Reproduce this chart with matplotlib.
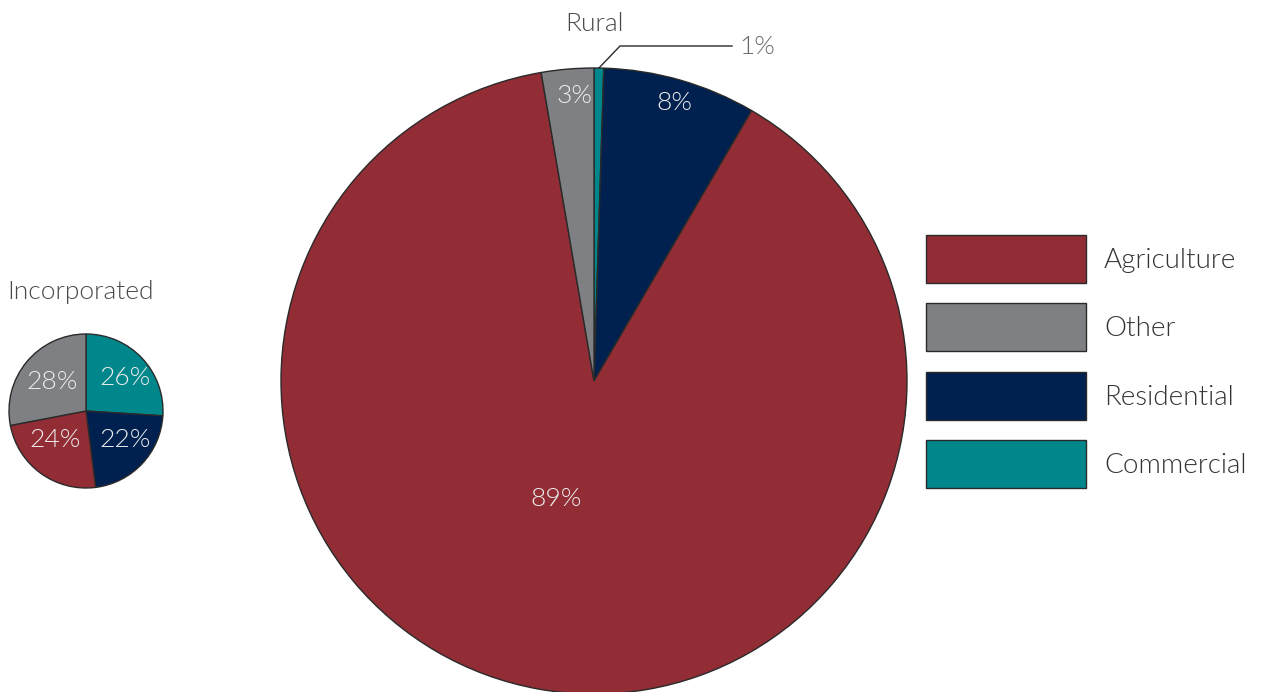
import numpy as np
import matplotlib
matplotlib.use("Agg")
import matplotlib.pyplot as plt

plt.rcParams['font.family'] = ['Lato', 'DejaVu Sans']
plt.rcParams['font.weight'] = 300

categories = ['Agriculture', 'Other', 'Residential', 'Commercial']
colors = {'Agriculture': '#922D35', 'Other': '#7F8083',
          'Residential': '#00214F', 'Commercial': '#00878C'}

# clockwise from 12 o'clock
pie_order = ['Commercial', 'Residential', 'Agriculture', 'Other']
incorporated_values = [26, 22, 24, 28]
incorporated_labels = ['26%', '22%', '24%', '28%']
rural_values = [0.5, 7.9, 88.9, 2.7]
rural_labels = ['1%', '8%', '89%', '3%']

W, H = 1262, 692
FS = 19
LEG_FS = 20
DY = 2  # text sits a touch lower than matplotlib's centre
fig = plt.figure(figsize=(W / 100, H / 100), dpi=100)
ax = fig.add_axes([0, 0, 1, 1])

edge = dict(edgecolor='#2a2a2a', linewidth=1.0)
label_col = '#EDEDED'
title_col = '#4a4a4a'


def draw_pie(values, labels, center, radius, label_pos, fs):
    # label_pos: (fraction along wedge, fraction of radius)
    wedges, _ = ax.pie(values, colors=[colors[c] for c in pie_order],
                       startangle=90, counterclock=False, center=center,
                       radius=radius, wedgeprops=edge, frame=True)
    for w, lab, pos in zip(wedges, labels, label_pos):
        if pos is None:
            continue
        f, r = pos
        ang = np.deg2rad(w.theta2 + f * (w.theta1 - w.theta2))
        ax.text(center[0] + r * radius * np.cos(ang),
                center[1] + r * radius * np.sin(ang) - DY, lab,
                ha='center', va='center', color=label_col, fontsize=fs,
                fontweight=300)
    return wedges


draw_pie(incorporated_values, incorporated_labels, (86, H - 411), 77,
         [(0.51, 0.68), (0.39, 0.62), (0.65, 0.53), (0.53, 0.59)], FS)
rw = draw_pie(rural_values, rural_labels, (594, H - 381), 313,
              [None, (0.5, 0.93), (0.525, 0.39), (0.6, 0.92)], FS)
ax.set_xlim(0, W)
ax.set_ylim(0, H)
ax.set_aspect('equal')
ax.axis('off')

# 1% callout
w = rw[0]
ang = np.deg2rad((w.theta1 + w.theta2) / 2)
x0 = 594 + 313 * np.cos(ang)
y0 = H - 381 + 313 * np.sin(ang)
ax.plot([x0, 620, 732], [y0, H - 46, H - 46], color='#2a2a2a', lw=1.0)
ax.text(739, H - 45 - DY, rural_labels[0], ha='left', va='center',
        color='#6a6a6a', fontsize=FS, fontweight=300)

ax.text(594, H - 22 - DY, 'Rural', ha='center', va='center', color=title_col,
        fontsize=FS, fontweight=300)
ax.text(81, H - 290 - DY, 'Incorporated', ha='center', va='center',
        color=title_col, fontsize=FS, fontweight=300)

fs_px = LEG_FS * 100 / 72
h = (48 / fs_px - 0.245) / 0.65
handles = [plt.Rectangle((0, 0), 1, 1, facecolor=colors[c], **edge)
           for c in categories]
leg = fig.legend(handles, categories, loc='upper left',
                 bbox_to_anchor=(912 / W, 1 - 221 / H), frameon=False,
                 handlelength=160 / fs_px, handleheight=h,
                 labelspacing=20.5 / fs_px,
                 handletextpad=18 / fs_px, borderpad=0,
                 prop={'size': LEG_FS, 'weight': 300})
for t in leg.get_texts():
    t.set_color('#333333')

fig.savefig('out.png', dpi=100)
